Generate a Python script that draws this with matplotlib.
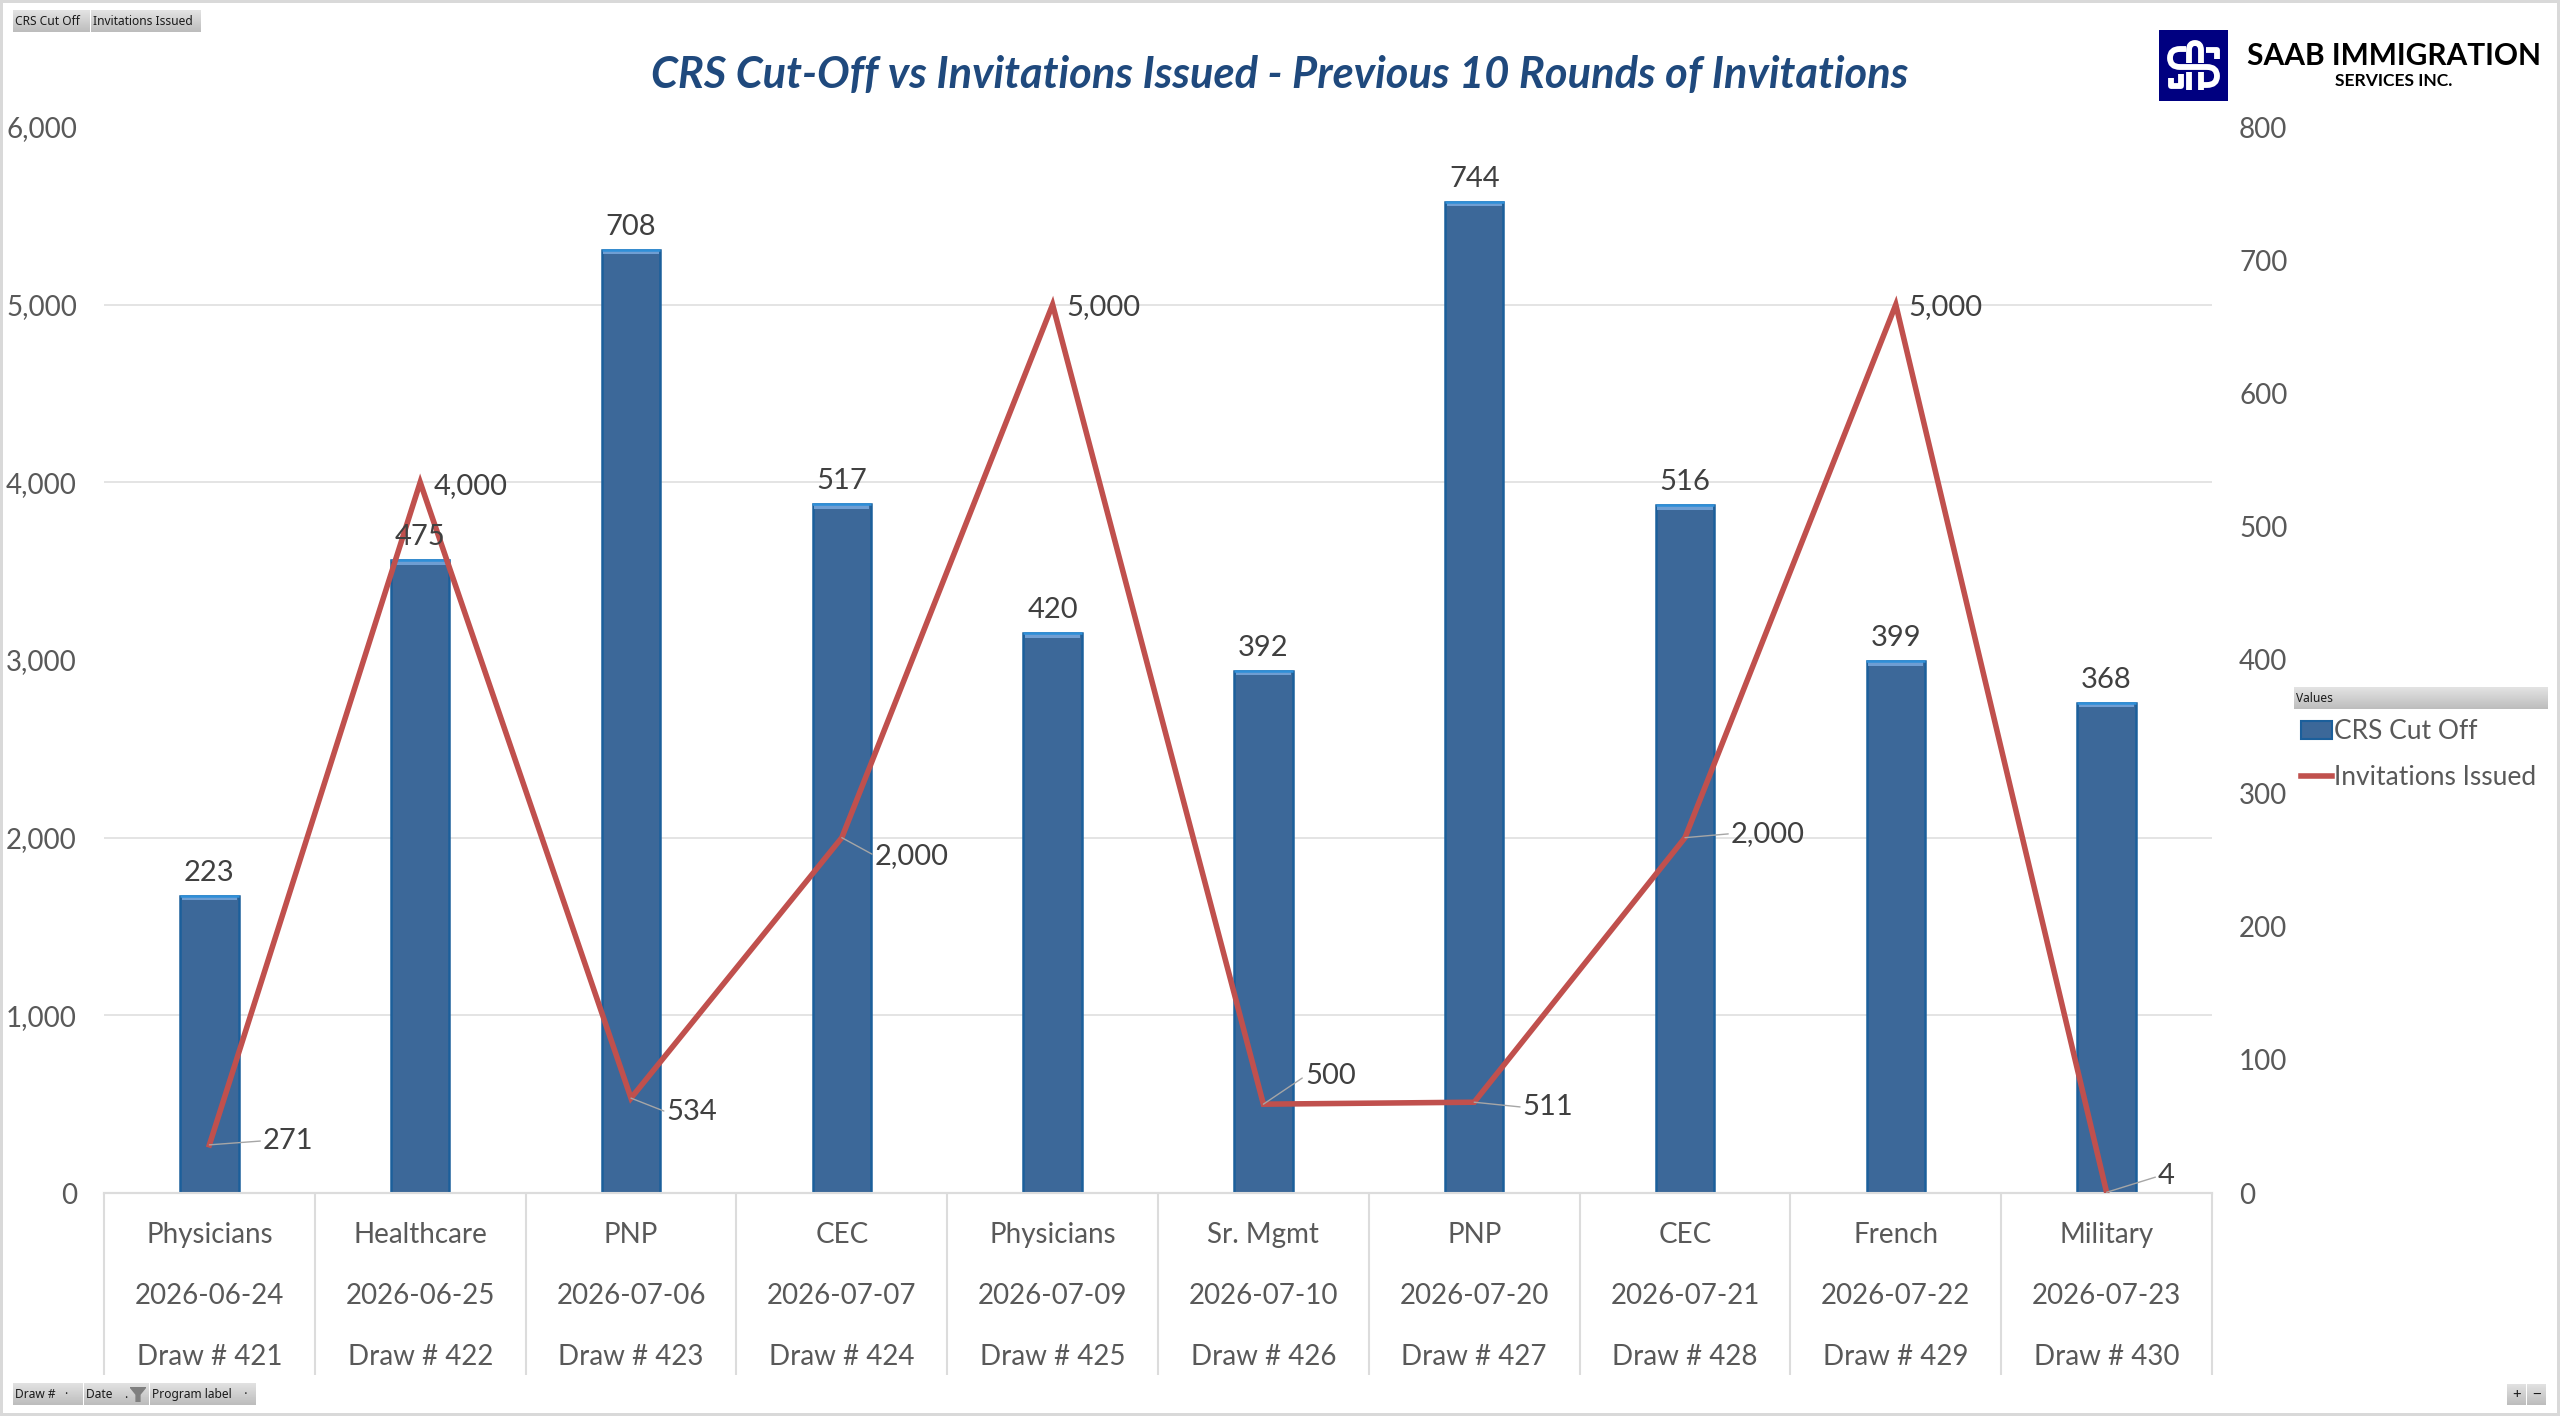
import numpy as np
import matplotlib
matplotlib.use("Agg")
import matplotlib.pyplot as plt
from matplotlib.lines import Line2D
from matplotlib.patches import Patch, PathPatch, Rectangle
from matplotlib.path import Path

WIDTH, HEIGHT = 2560, 1416

programs = ["Physicians", "Healthcare", "PNP", "CEC", "Physicians",
            "Sr. Mgmt", "PNP", "CEC", "French", "Military"]
dates = ["2026-06-24", "2026-06-25", "2026-07-06", "2026-07-07", "2026-07-09",
         "2026-07-10", "2026-07-20", "2026-07-21", "2026-07-22", "2026-07-23"]
draws = [421, 422, 423, 424, 425, 426, 427, 428, 429, 430]
crs_cut_off = [223, 475, 708, 517, 420, 392, 744, 516, 399, 368]
invitations = [271, 4000, 534, 2000, 5000, 500, 511, 2000, 5000, 4]

left_ticks = [0, 1000, 2000, 3000, 4000, 5000, 6000]
right_ticks = [0, 100, 200, 300, 400, 500, 600, 700, 800]

# label offsets from the line point, in pixels (x, y up)
line_label_offsets = [(79, 4), (50, -4), (61, -14), (70, -18), (51, -2),
                      (67, 28), (74, -5), (83, 4), (50, -2), (60, 16)]
has_leader = [True, False, True, True, False, True, True, True, False, True]

GREY_TEXT = "#595959"
DARK_TEXT = "#404040"
GRID = "#dcdcdc"
BAR = "#3c6899"
BAR_EDGE = "#1b5f9b"
BAR_TOP = "#6f9ed3"
LINE = "#c0504d"

plt.rcParams["font.family"] = ["Lato", "DejaVu Sans"]


def to_fig(x0, y0, x1, y1):
    return [x0 / WIDTH, 1 - y1 / HEIGHT, (x1 - x0) / WIDTH, (y1 - y0) / HEIGHT]


def gray_button(fig, x0, y0, x1, y1, label, ha="left", size=8.6):
    ax = fig.add_axes(to_fig(x0, y0, x1, y1), zorder=5)
    ax.imshow(np.linspace(0.89, 0.74, 32).reshape(-1, 1), cmap="gray", vmin=0, vmax=1,
              aspect="auto", extent=(0, 1, 0, 1))
    ax.axis("off")
    tx = 0.5 if ha == "center" else 2 / (x1 - x0)
    ax.text(tx, 0.47, label, ha=ha, va="center", fontsize=size, color="#1a1a1a",
            family="Noto Sans")
    return ax


def logo_stroke(ax, verts, codes):
    ax.add_patch(PathPatch(Path(verts, codes), facecolor="none", edgecolor="white",
                           linewidth=4.2, capstyle="butt", joinstyle="round"))


def draw_logo(fig):
    ax = fig.add_axes(to_fig(2159, 30, 2228, 101), zorder=5)
    ax.set_xlim(0, 69)
    ax.set_ylim(71, 0)
    ax.add_patch(Rectangle((0, 0), 69, 71, color="#000080"))
    m, l, q = Path.MOVETO, Path.LINETO, Path.CURVE3
    # the S
    logo_stroke(ax, [(27, 19), (21, 19), (11, 19), (11, 28), (11, 37), (21, 37), (48, 37),
                     (58, 37), (58, 46), (58, 55), (48, 55), (42, 55)],
                [m, l, q, q, q, q, l, q, q, q, q, l])
    # the arch through it
    logo_stroke(ax, [(30, 33), (30, 20), (30, 13), (36, 13), (42, 13), (42, 20), (42, 33)],
                [m, l, q, q, q, q, l])
    logo_stroke(ax, [(30, 42), (30, 60)], [m, l])
    logo_stroke(ax, [(42, 42), (42, 60)], [m, l])
    # corner marks
    logo_stroke(ax, [(47, 20), (58, 20), (58, 29)], [m, l, l])
    logo_stroke(ax, [(12, 48), (12, 56), (22, 56), (22, 44)], [m, l, l, l])
    ax.axis("off")
    fig.text(2394 / WIDTH, 1 - 56 / HEIGHT, "SAAB IMMIGRATION", ha="center", va="center",
             fontsize=21.5, color="black", fontweight="bold")
    fig.text(2394 / WIDTH, 1 - 81 / HEIGHT, "SERVICES INC.", ha="center", va="center",
             fontsize=12.6, color="black", fontweight="bold")


def main():
    fig = plt.figure(figsize=(WIDTH / 100, HEIGHT / 100), dpi=100)
    fig.patch.set_edgecolor("#d9d9d9")
    fig.patch.set_linewidth(3)

    x = np.arange(len(programs))

    # bars sit on the right axis, line on the left one
    ax_bar = fig.add_axes(to_fig(104, 127, 2212, 1193))
    ax_line = ax_bar.twinx()
    ax_bar.set_zorder(1)
    ax_line.set_zorder(2)
    ax_line.patch.set_visible(False)

    ax_bar.set_xlim(-0.5, 9.5)
    ax_bar.set_ylim(0, 800)
    ax_line.set_ylim(0, 6000)

    ax_bar.bar(x, crs_cut_off, width=0.277, color=BAR, edgecolor=BAR_EDGE, linewidth=1.8, zorder=3)
    # bevel at the top of each bar
    ax_bar.bar(x, [3.2] * len(x), bottom=np.array(crs_cut_off) - 3.4, width=0.262,
               color=BAR_TOP, linewidth=0, zorder=4)
    ax_bar.hlines(crs_cut_off, x - 0.139, x + 0.139, color="#2f8fd8", linewidth=1.8, zorder=4)

    ax_line.plot(x, invitations, color=LINE, linewidth=4, solid_joinstyle="miter", zorder=3)

    # right axis ticks, gridlines at the left axis steps
    ax_bar.yaxis.tick_right()
    ax_bar.set_yticks(right_ticks)
    ax_bar.tick_params(axis="y", length=0, labelsize=20, labelcolor=GREY_TEXT, pad=19.5)
    ax_bar.set_yticks(np.array(left_ticks) * 800 / 6000, minor=True)
    ax_bar.tick_params(axis="y", which="minor", length=0, labelright=False)
    ax_bar.yaxis.grid(True, which="minor", color=GRID, linewidth=1.1, zorder=0)
    ax_bar.yaxis.grid(False, which="major")
    ax_bar.set_axisbelow(True)

    ax_line.yaxis.tick_left()
    ax_line.set_yticks(left_ticks)
    ax_line.set_yticklabels([f"{v:,}" for v in left_ticks])
    ax_line.tick_params(axis="y", length=0, labelsize=20, labelcolor=GREY_TEXT, pad=19.5)

    # category table under the axis
    ax_bar.set_xticks(np.arange(-0.5, 10, 1))
    ax_bar.set_xticklabels([])
    ax_bar.tick_params(axis="x", which="major", length=131, width=1.5, color=GRID)
    ax_bar.set_xticks(x, minor=True)
    labels = [f"{p}\n{d}\nDraw # {n}" for p, d, n in zip(programs, dates, draws)]
    ax_bar.set_xticklabels(labels, minor=True, linespacing=2.66)
    ax_bar.tick_params(axis="x", which="minor", length=0, labelsize=20, labelcolor=GREY_TEXT, pad=21)
    ax_line.tick_params(axis="x", length=0, labelbottom=False)

    for ax in (ax_bar, ax_line):
        for side in ("top", "left", "right"):
            ax.spines[side].set_visible(False)
        ax.spines["bottom"].set_color(GRID)
        ax.spines["bottom"].set_linewidth(1.5)

    for xi, v in zip(x, crs_cut_off):
        ax_line.annotate(str(v), (xi, v * 6000 / 800), xytext=(0, 23), textcoords="offset pixels",
                         ha="center", va="center", fontsize=21, color=DARK_TEXT, zorder=6)

    for xi, v, off, lead in zip(x, invitations, line_label_offsets, has_leader):
        arrow = None
        if lead:
            arrow = dict(arrowstyle="-", color="#a6a6a6", linewidth=1, shrinkA=0, shrinkB=0,
                         relpos=(0, 0.5))
        ax_line.annotate(f"{v:,}", (xi, v), xytext=off, textcoords="offset pixels",
                         ha="center", va="center", fontsize=21, color=DARK_TEXT,
                         arrowprops=arrow, zorder=6)

    fig.text(1280 / WIDTH, 1 - 75 / HEIGHT, "CRS Cut-Off vs Invitations Issued - Previous 10 Rounds of Invitations",
             ha="center", va="center", fontsize=31.2, fontweight="bold", fontstyle="italic", color="#1f497d")

    draw_logo(fig)

    gray_button(fig, 13, 10, 90, 32, "CRS Cut Off")
    gray_button(fig, 91, 10, 201, 32, "Invitations Issued")
    gray_button(fig, 13, 1383, 83, 1405, "Draw #   ·")
    gray_button(fig, 84, 1383, 149, 1405, "Date    .")
    gray_button(fig, 150, 1383, 256, 1405, "Program label    ·")
    gray_button(fig, 2294, 687, 2548, 709, "Values")
    gray_button(fig, 2507, 1384, 2526, 1405, "+", ha="center", size=11)
    gray_button(fig, 2527, 1384, 2546, 1405, "−", ha="center", size=11)

    # funnel glyph on the Date button
    fun = fig.add_axes(to_fig(130, 1387, 146, 1402), zorder=6)
    fun.fill([0, 1, 0.62, 0.62, 0.38, 0.38], [1, 1, 0.5, 0, 0, 0.5], color="#7f7f7f")
    fun.set_xlim(0, 1)
    fun.set_ylim(0, 1)
    fun.axis("off")

    handles = [Patch(facecolor=BAR, edgecolor=BAR_EDGE, linewidth=1.5),
               Line2D([], [], color=LINE, linewidth=4)]
    fig.legend(handles, ["CRS Cut Off", "Invitations Issued"], loc="upper left",
               bbox_to_anchor=(2296 / WIDTH, 1 - 714 / HEIGHT), frameon=False, fontsize=19,
               labelcolor=GREY_TEXT, handlelength=1.17, handletextpad=0.08, labelspacing=0.78,
               borderpad=0.2, borderaxespad=0)

    fig.savefig("out.png", dpi=100, edgecolor=fig.get_edgecolor())


if __name__ == "__main__":
    main()
